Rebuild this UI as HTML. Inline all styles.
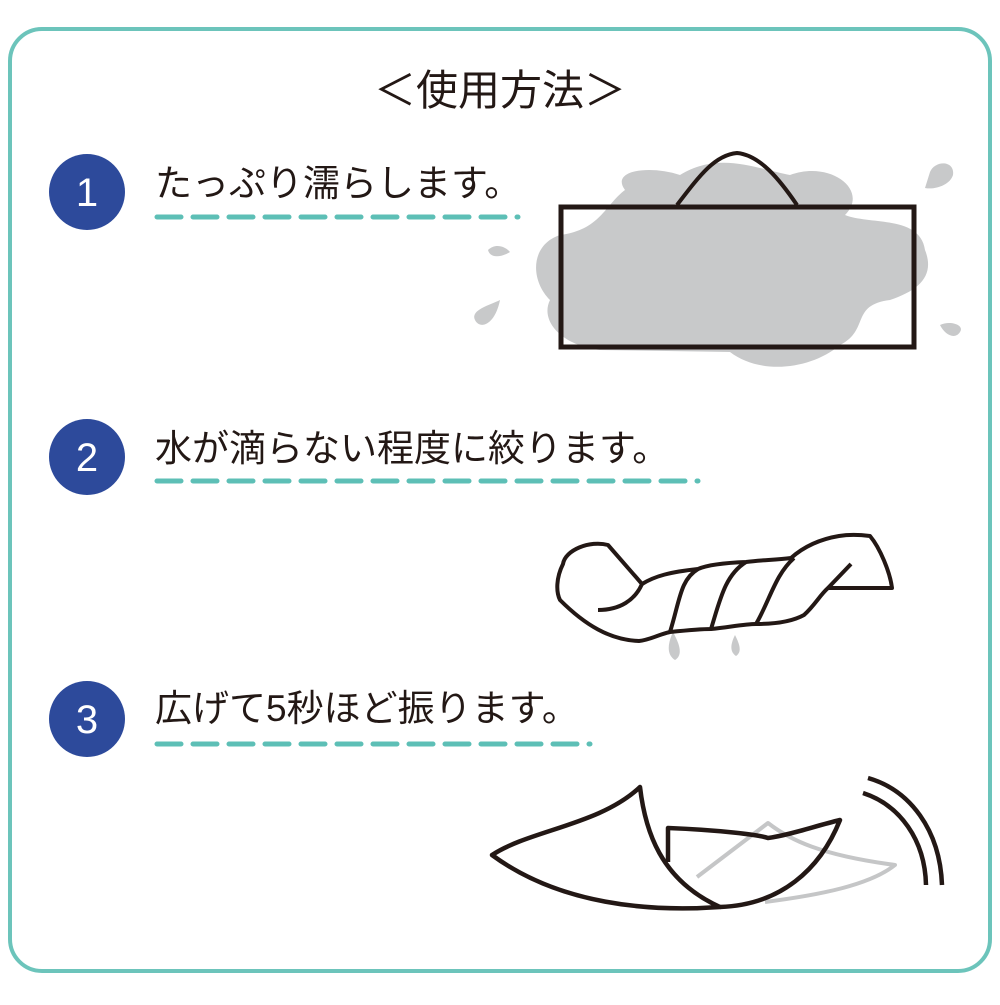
<!DOCTYPE html>
<html><head><meta charset="utf-8"><style>
body{margin:0;background:#fff;}
svg text{font-family:"Liberation Sans","Noto Sans CJK JP",sans-serif;}
</style></head><body>
<svg width="1000" height="1000" viewBox="0 0 1000 1000" xmlns="http://www.w3.org/2000/svg">
<rect x="10" y="29" width="980" height="942" rx="32" fill="#fff" stroke="#6cc4bb" stroke-width="4"/>
<text x="500" y="105" font-size="42" text-anchor="middle" fill="#231815">＜使用方法＞</text>

<g fill="#2d4a9b"><circle cx="87" cy="192" r="38"/><circle cx="87" cy="457" r="38"/><circle cx="87" cy="719" r="38"/></g>
<g fill="#fff" font-size="40" text-anchor="middle"><text x="87" y="206">1</text><text x="87" y="471">2</text><text x="87" y="733">3</text></g>
<g fill="#231815" font-size="37">
<text x="155" y="196">たっぷり濡らします。</text>
<text x="155" y="461">水が滴らない程度に絞ります。</text>
<text x="155" y="721">広げて5秒ほど振ります。</text>
</g>
<g stroke="#5dbfb6" stroke-width="5" stroke-linecap="round" stroke-dasharray="24 12" fill="none">
<line x1="157" y1="217" x2="518" y2="217"/>
<line x1="157" y1="481" x2="698" y2="481"/>
<line x1="157" y1="744" x2="590" y2="744"/>
</g>

<!-- step1 -->
<g fill="#c8c9ca">
<path d="M625 190 C610 170 650 165 680 175 C720 150 760 170 790 175 C830 160 870 190 845 215 C870 225 920 215 925 250 C935 275 920 290 890 300 C850 305 870 330 840 345 C810 370 760 375 730 352 L600 350 C560 345 540 320 550 300 C530 280 530 245 560 235 C600 230 605 205 625 190 Z"/>
<path d="M930 172 C935 160 955 160 953 175 C950 185 935 190 925 188 Z"/>
<path d="M488 250 C495 243 505 246 510 252 C500 258 490 258 488 250 Z"/>
<path d="M500 300 C490 305 470 310 475 320 C480 330 495 325 500 300 Z"/>
<path d="M940 325 C950 320 965 325 960 332 C955 340 945 335 940 325 Z"/>
</g>
<rect x="561" y="207" width="353" height="140" fill="none" stroke="#231815" stroke-width="5"/>
<path d="M677 205 C700 175 715 155 737 153 C760 155 780 180 797 205" fill="none" stroke="#231815" stroke-width="4"/>

<!-- step2 -->
<g fill="#c8c9ca">
<path d="M675 660 C667 655 667 645 673 632 C680 645 683 655 675 660 Z"/>
<path d="M736 656 C730 652 730 645 735 635 C740 645 742 652 736 656 Z"/>
</g>
<g fill="none" stroke="#231815" stroke-width="4" stroke-linejoin="round">
<path d="M608 545 C590 540 565 550 563 564 C556 578 556 592 560 600 C585 625 610 640 639 641 C650 640 660 634 670 632 C690 630 700 629 711 629 C730 627 745 624 756 624 C780 624 795 620 804 615 C815 605 820 595 828 588 L892 588 C890 572 880 548 870 536 C855 534 845 535 839 536 C815 540 800 550 791 558 C775 560 760 560 746 562 C720 563 705 566 698 569 C670 572 655 576 642 584 L608 545 Z"/>
<path d="M598 610 C620 610 635 600 642 584"/>
<path d="M670 632 C680 600 680 580 698 569"/>
<path d="M711 629 C720 600 725 575 746 562"/>
<path d="M756 624 C770 600 775 575 794 558"/>
<path d="M828 588 L851 564"/>
</g>

<!-- step3 -->
<g fill="none" stroke="#c5c6c7" stroke-width="4" stroke-linejoin="round">
<path d="M697 877 L768 823 C790 840 820 855 895 865 C870 885 820 895 765 902"/>
</g>
<g fill="none" stroke="#231815" stroke-width="4.5" stroke-linejoin="round">
<path d="M492 855 C530 830 600 825 640 787 C645 830 660 880 720 907 C650 912 560 905 492 855 Z"/>
<path d="M668 862 L668 828 C720 830 760 835 768 838 C790 835 815 826 840 820 C820 870 780 905 720 907"/>
<path d="M868 778 C910 790 940 830 942 885"/>
<path d="M863 793 C900 805 925 840 926 885"/>
</g>
</svg>
</body></html>
